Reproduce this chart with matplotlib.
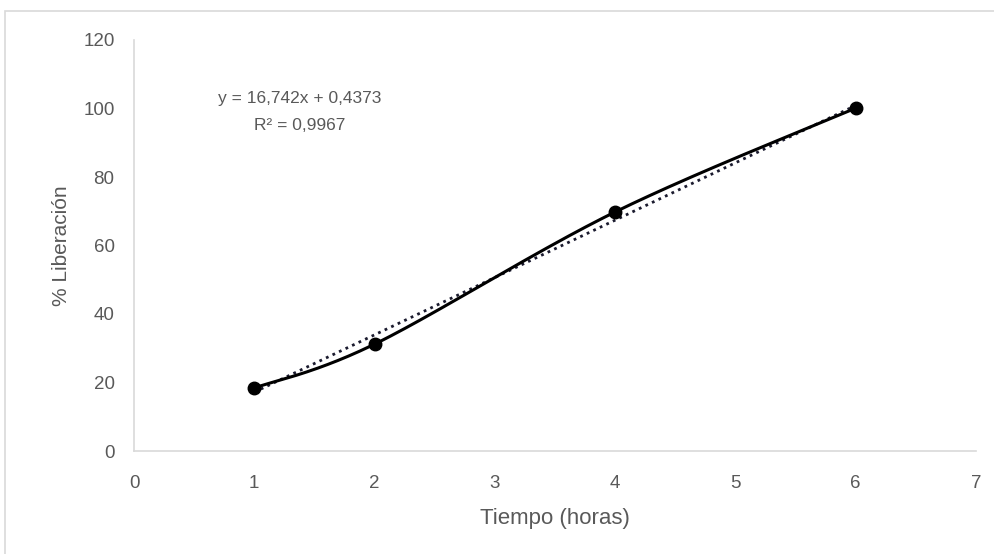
import numpy as np
import matplotlib
matplotlib.use("Agg")
import matplotlib.pyplot as plt
from matplotlib.patches import Rectangle

# Data
tiempo = [1, 2, 4, 6]
liberacion = [18.4, 31.2, 69.8, 100.1]
slope = 16.742
intercept = 0.4373
r2 = 0.9967
x_ticks = [0, 1, 2, 3, 4, 5, 6, 7]
y_ticks = [0, 20, 40, 60, 80, 100, 120]

plt.rcParams['font.family'] = ['Liberation Sans', 'DejaVu Sans']

W, H = 995, 554
fig = plt.figure(figsize=(W / 100, H / 100), dpi=100)
ax = fig.add_axes([134 / W, 1 - 451 / H, (976 - 134) / W, (451 - 40) / H])

# outer chart border
fig.patches.append(Rectangle((5 / W, -0.1), 1.2, 1 - 11 / H + 0.1, transform=fig.transFigure,
                             fill=False, edgecolor='#d9d9d9', linewidth=1.2))

# Excel-like smoothed line (cubic Bezier, Catmull-Rom style)
P = np.column_stack([tiempo, liberacion]).astype(float)
curve = []
n = len(P)
for i in range(n - 1):
    p0 = P[i - 1] if i > 0 else P[i]
    p1 = P[i]
    p2 = P[i + 1]
    p3 = P[i + 2] if i + 2 < n else P[i + 1]
    c1 = p1 + (p2 - p0) / 6.0
    c2 = p2 - (p3 - p1) / 6.0
    t = np.linspace(0, 1, 60)[:, None]
    seg = (1 - t) ** 3 * p1 + 3 * (1 - t) ** 2 * t * c1 + 3 * (1 - t) * t ** 2 * c2 + t ** 3 * p2
    curve.append(seg)
curve = np.vstack(curve)
ax.plot(curve[:, 0], curve[:, 1], color='black', linewidth=2.2, solid_capstyle='round', zorder=3)

# trendline
xt = np.array([tiempo[0], tiempo[-1]], dtype=float)
ax.plot(xt, slope * xt + intercept, color='#1a1a2e', linewidth=2.0, linestyle=(0, (1, 1.6)), zorder=2)

ax.plot(tiempo, liberacion, 'o', color='black', markersize=9, zorder=4)

ax.set_xlim(0, 7)
ax.set_ylim(0, 120)
ax.set_xticks(x_ticks)
ax.set_yticks(y_ticks)
for s in ['top', 'right']:
    ax.spines[s].set_visible(False)
for s in ['left', 'bottom']:
    ax.spines[s].set_color('#d9d9d9')
    ax.spines[s].set_linewidth(1.2)
ax.tick_params(length=0, labelsize=13.5, labelcolor='#595959')
ax.tick_params(axis='x', pad=17)
ax.tick_params(axis='y', pad=14)

ax.set_xlabel('Tiempo (horas)', fontsize=16, color='#595959', labelpad=12)
ax.set_ylabel('% Liberación', fontsize=15, color='#595959', labelpad=9)

ax.text(300 / W, 1 - 98 / H, 'y = 16,742x + 0,4373', transform=fig.transFigure,
        ha='center', va='center', fontsize=12.5, color='#595959')
ax.text(300 / W, 1 - 125 / H, 'R² = 0,9967', transform=fig.transFigure,
        ha='center', va='center', fontsize=12.5, color='#595959')

fig.savefig('out.png', dpi=100)
